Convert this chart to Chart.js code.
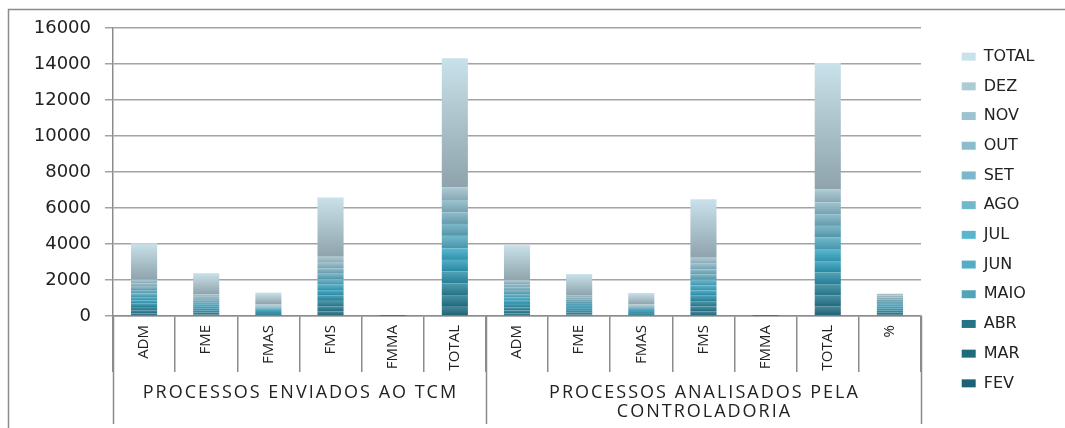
<!DOCTYPE html>
<html>
<head>
<meta charset="utf-8">
<script src="https://cdn.jsdelivr.net/npm/chart.js@4.4.1/dist/chart.umd.min.js"></script>
<style>
  html, body { margin: 0; padding: 0; background: #fff; }
  #wrap { width: 1065px; height: 428px; }
</style>
</head>
<body>
<div id="wrap"><canvas id="chart"></canvas></div>
<script>
// categories along the x axis, and the two groups they belong to
const categories = ['ADM', 'FME', 'FMAS', 'FMS', 'FMMA', 'TOTAL',
                    'ADM', 'FME', 'FMAS', 'FMS', 'FMMA', 'TOTAL', '%'];
const groupLabels = ['PROCESSOS ENVIADOS AO TCM', ['PROCESSOS ANALISADOS PELA', 'CONTROLADORIA']];
const groupSizes = [6, 7];

// one array per series (stacked bottom to top)
const fev   = [150,  95, 50, 260, 1, 556, 145,  92, 49, 255, 1, 542, 103];
const mar   = [170, 100, 55, 280, 1, 606, 165,  98, 54, 275, 1, 593, 104];
const abr   = [180, 105, 60, 300, 1, 646, 175, 103, 59, 295, 1, 633, 104];
const maio  = [190, 110, 60, 310, 1, 671, 185, 108, 59, 305, 1, 658, 105];
const jun   = [185, 105, 55, 290, 1, 636, 180, 103, 54, 285, 1, 623, 104];
const jul   = [175, 110, 60, 300, 1, 646, 170, 107, 59, 295, 1, 632, 103];
const ago   = [200, 115, 65, 310, 1, 691, 195, 112, 64, 305, 1, 677, 104];
const set   = [190, 110, 60, 300, 1, 661, 185, 108, 59, 295, 1, 648, 104];
const out   = [185, 105, 60, 290, 1, 641, 180, 103, 59, 285, 1, 628, 104];
const nov   = [195, 115, 60, 320, 0, 690, 190, 113, 60, 315, 0, 678, 105];
const dez   = [200, 120, 65, 330, 1, 716, 200, 118, 64, 330, 1, 713, 106];
const total = [2020, 1190, 650, 3290, 10, 7160, 1970, 1165, 640, 3240, 10, 7025, 104];

const seriesNames  = ['FEV', 'MAR', 'ABR', 'MAIO', 'JUN', 'JUL', 'AGO', 'SET', 'OUT', 'NOV', 'DEZ', 'TOTAL'];
const seriesValues = [fev, mar, abr, maio, jun, jul, ago, set, out, nov, dez, total];

const yTicks = [0, 2000, 4000, 6000, 8000, 10000, 12000, 14000, 16000];

// styling
const baseColors = ['#216e84', '#24788f', '#2a8399', '#2b8fa9', '#2e9bb8', '#36a6c4',
                    '#52a8c1', '#5fa8bd', '#73afc1', '#87b6c6', '#9bbfcc', '#a9c4cf'];
const LINE = '#8c8c8c';

function mix(hex, target, amt) {
    const n = parseInt(hex.slice(1), 16);
    const c = [(n >> 16) & 255, (n >> 8) & 255, n & 255].map(v => Math.round(v + (target - v) * amt));
    return 'rgb(' + c.join(',') + ')';
}

function segmentFill(i) {
    const base = baseColors[i];
    const isTotal = i === seriesNames.length - 1;
    const bottom = isTotal ? '#8ea3ab' : mix(base, 0, 0.12);
    const top = isTotal ? '#c9e1ea' : mix(base, 255, 0.18);
    return function (ctx) {
        if (ctx.type !== 'data') return base;
        const chart = ctx.chart, y = chart.scales.y;
        if (!y || !chart.chartArea) return base;
        let start = 0;
        for (let d = 0; d < ctx.datasetIndex; d++) start += chart.data.datasets[d].data[ctx.dataIndex] || 0;
        const end = start + (ctx.raw || 0);
        const y0 = y.getPixelForValue(start), y1 = y.getPixelForValue(end);
        if (Math.abs(y0 - y1) < 1) return base;
        const g = chart.ctx.createLinearGradient(0, y0, 0, y1);
        g.addColorStop(0, bottom);
        g.addColorStop(1, top);
        return g;
    };
}

const datasets = seriesNames.map((name, i) => ({
    label: name,
    data: seriesValues[i],
    backgroundColor: segmentFill(i),
    borderWidth: 0,
    barPercentage: 0.42,
    categoryPercentage: 1
}));

// legend sits a bit right of the plot, and a frame + group labels under the x axis
const layoutExtras = {
    id: 'layoutExtras',
    beforeInit(chart) {
        const fit = chart.legend.fit;
        chart.legend.fit = function () {
            fit.call(this);
            this.width = 144;
        };
    },
    afterLayout(chart) {
        const lg = chart.legend;
        lg.left += 27; lg.right += 27;
        lg.top -= 8; lg.bottom -= 8;
    },
    afterDraw(chart) {
        const ctx = chart.ctx, x = chart.scales.x, area = chart.chartArea;
        ctx.save();
        ctx.strokeStyle = LINE;
        ctx.lineWidth = 1.5;
        // outer frame
        ctx.beginPath();
        ctx.moveTo(8.5, 428); ctx.lineTo(8.5, 9.5); ctx.lineTo(1065, 9.5);
        ctx.stroke();
        // long group separators
        let idx = 0;
        const bounds = [-0.5];
        groupSizes.forEach(n => { idx += n; bounds.push(idx - 0.5); });
        ctx.beginPath();
        bounds.forEach(b => {
            const px = Math.round(x.getPixelForValue(b)) + 0.5;
            ctx.moveTo(px, area.bottom);
            ctx.lineTo(px, 424);
        });
        ctx.stroke();
        // group labels
        ctx.fillStyle = '#222';
        ctx.font = '18px "Open Sans"';
        ctx.letterSpacing = '2px';
        ctx.textAlign = 'center';
        ctx.textBaseline = 'middle';
        let first = 0;
        groupLabels.forEach((lab, g) => {
            const cx = x.getPixelForValue(first + (groupSizes[g] - 1) / 2);
            const lines = Array.isArray(lab) ? lab : [lab];
            lines.forEach((t, k) => ctx.fillText(t, cx + 1, 393 + k * 19));
            first += groupSizes[g];
        });
        ctx.restore();
    }
};

new Chart(document.getElementById('chart'), {
    type: 'bar',
    data: { labels: categories, datasets: datasets },
    options: {
        responsive: true,
        maintainAspectRatio: false,
        animation: false,
        layout: { padding: { top: 28, left: 0, right: 0, bottom: 0 } },
        plugins: {
            legend: {
                position: 'right',
                reverse: true,
                labels: {
                    boxWidth: 14,
                    boxHeight: 8,
                    padding: 13.7,
                    color: '#222',
                    font: { family: '"DejaVu Sans"', size: 16 }
                }
            },
            tooltip: { enabled: false }
        },
        scales: {
            x: {
                stacked: true,
                afterFit(s) { s.height = 112; },
                border: { display: true, color: LINE, width: 1.5 },
                grid: {
                    offset: true,
                    drawOnChartArea: false,
                    drawTicks: true,
                    tickLength: 56,
                    color: LINE,
                    lineWidth: 1.5
                },
                ticks: {
                    autoSkip: false,
                    minRotation: 90,
                    maxRotation: 90,
                    padding: -47,
                    color: '#222',
                    font: { family: '"Open Sans"', size: 15 }
                }
            },
            y: {
                stacked: true,
                min: 0,
                max: 16000,
                afterFit(s) { s.width = 113; },
                afterBuildTicks(s) { s.ticks = yTicks.map(v => ({ value: v })); },
                border: { display: true, color: LINE, width: 1.5 },
                grid: { color: '#a3a3a3', lineWidth: 1.5, tickLength: 8 },
                ticks: {
                    padding: 14,
                    color: '#222',
                    font: { family: '"DejaVu Sans"', size: 18 },
                    callback: v => String(v)
                }
            }
        }
    },
    plugins: [layoutExtras]
});
</script>
</body>
</html>
